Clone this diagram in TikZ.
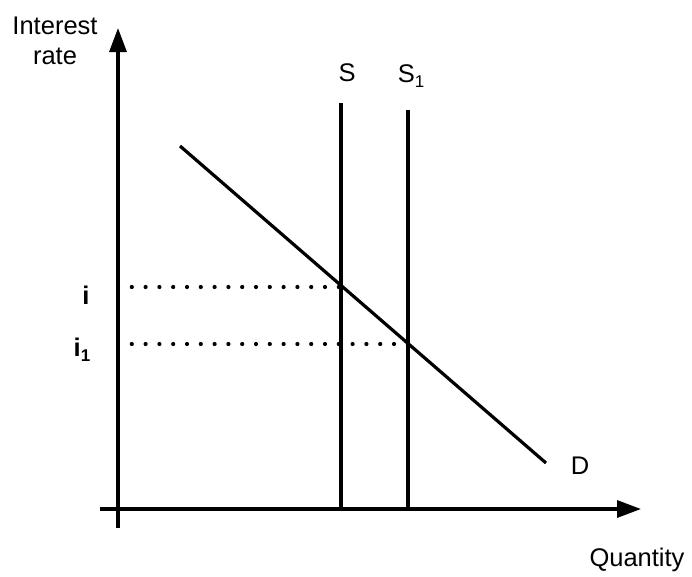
\documentclass[tikz,border=0pt]{standalone}
\usepackage{fontspec}
\setmainfont{Liberation Sans}
\usetikzlibrary{arrows.meta}
\newcommand{\lowsub}[1]{\raisebox{-0.4ex}{\fontsize{17}{19}\selectfont #1}}
\begin{document}
\begin{tikzpicture}[x=1pt,y=-1pt,
  axis/.style={line width=3.2pt,-{Triangle[length=24pt,width=17pt]}},
  curve/.style={line width=3.2pt},
  guide/.style={line width=4.2pt,line cap=round,dash pattern=on 0pt off 13.8pt},
  lbl/.style={font=\fontsize{25.5}{30}\selectfont,inner sep=0pt},
  blbl/.style={font=\fontsize{25.5}{30}\selectfont\bfseries,inner sep=0pt}]
\useasboundingbox (0,0) rectangle (692,576);
% axes
\coordinate (yb) at (118,528);
\coordinate (yt) at (118,28);
\coordinate (xl) at (100,509);
\coordinate (xr) at (641,509);
\draw[axis] (yb) -- (yt);
\draw[axis] (xl) -- (xr);
% supply lines
\coordinate (st) at (341,103);
\coordinate (sb) at (341,509);
\coordinate (s1t) at (408,110);
\coordinate (s1b) at (408,509);
\draw[curve] (st) -- (sb);
\draw[curve] (s1t) -- (s1b);
% demand
\coordinate (dt) at (180,146);
\coordinate (db) at (546,463);
\draw[curve] (dt) -- (db);
% dotted guides
\coordinate (ia) at (118,287);
\coordinate (ie) at (341,287);
\coordinate (i1a) at (118,344);
\coordinate (i1e) at (408,344);
\draw[guide] (ia) -- (ie);
\draw[guide] (i1a) -- (i1e);
% labels
\node[lbl,align=center] (yl) at (55,41) {Interest\\rate};
\node[lbl] (xlab) at (637,560) {Quantity};
\node[lbl] (sl) at (347,73) {S};
\node[lbl] (s1l) at (411,76) {S\lowsub{1}};
\node[lbl] (dl) at (580,466) {D};
\node[blbl] (il) at (86,295) {i};
\node[blbl] (i1l) at (82,350) {i\lowsub{\bfseries 1}};
\end{tikzpicture}
\end{document}
